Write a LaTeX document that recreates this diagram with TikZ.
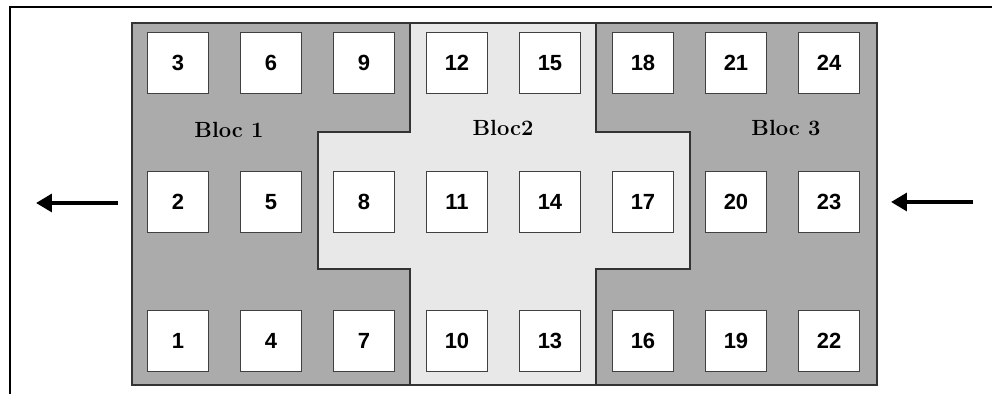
\documentclass[tikz,border=0pt]{standalone}
\usepackage{fontspec}
\setsansfont{Liberation Sans}
\usetikzlibrary{arrows.meta}
\usetikzlibrary{calc}

\tikzset{
    cell/.style={draw=black!75, fill=white, line width=0.8pt, minimum width=1.22cm, minimum height=1.22cm,
        inner sep=0pt, font=\sffamily\bfseries\fontsize{12.5}{12.5}\selectfont},
    bloclabel/.style={font=\bfseries\fontsize{12.5}{13}\selectfont, text=black},
    flow/.style={line width=2.4pt, -{Triangle[length=9pt, width=10pt]}}
}

\begin{document}
\begin{tikzpicture}[x=0.02cm, y=-0.02cm]
        % Define hall size (pixel units)
        \def \colstep {93}   % Spacing between columns
        \def \xfirst {178}   % Centre of the first column
        \useasboundingbox (0,0) rectangle (992,394);

        % Frame (left and top edges)
        \draw[line width=1.2pt] (10,394) -- (10,7) -- (992,7);

        % Draw Bloc 1 and Bloc 3 (dark background)
        \filldraw[fill=black!33, draw=black!80, line width=0.8pt] (132,23) rectangle (877,385);

        % Draw Bloc 2 (light cross in the middle)
        \filldraw[fill=black!9, draw=black!80, line width=0.8pt]
            (410,23) -- (596,23) -- (596,132) -- (690,132) -- (690,269) -- (596,269)
            -- (596,385) -- (410,385) -- (410,269) -- (318,269) -- (318,132) -- (410,132) -- cycle;

        % Draw the cells, numbered bottom to top in each column
        \foreach \c in {0,...,7} {
            \foreach \r in {1,2,3} {
                \pgfmathtruncatemacro \n {3*\c+\r}
                \node[cell] (c\n) at ({\xfirst+\c*\colstep}, {341-139*(\r-1)}) {\n};
            }
        }

        % Block names
        \node[bloclabel] (bloc1) at (229,130) {Bloc 1};
        \node[bloclabel] (bloc2) at (503,128) {Bloc2};
        \node[bloclabel] (bloc3) at (786,128) {Bloc 3};

        % Flow direction (right to left)
        \coordinate (inR) at (973,202);
        \coordinate (inL) at (891,202);
        \coordinate (outR) at (118,203);
        \coordinate (outL) at (36,203);
        \draw[flow] (inR) -- (inL);
        \draw[flow] (outR) -- (outL);
    \end{tikzpicture}
\end{document}
